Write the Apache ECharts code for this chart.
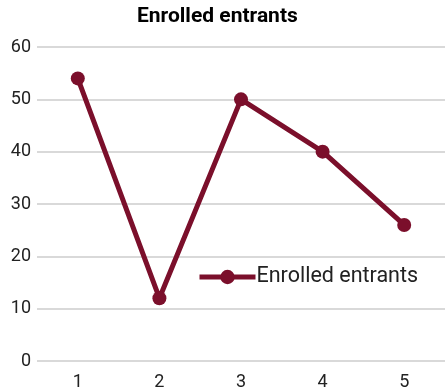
<!DOCTYPE html>
<html><head><meta charset="utf-8">
<script src="https://cdn.jsdelivr.net/npm/echarts@6/dist/echarts.min.js"></script>
<style>html,body{margin:0;padding:0;background:#fff}#c{width:445px;height:391px}</style>
</head><body><div id="c"></div>
<script>
const categories = ['1','2','3','4','5'];
const values = [54, 12, 50, 40, 26];
const seriesName = 'Enrolled entrants';
const color = '#7b0f2b';
const chart = echarts.init(document.getElementById('c'));
chart.setOption({
  animation: false,
  textStyle: { fontFamily: 'Roboto' },
  title: { text: 'Enrolled entrants', left: 137, top: 6, padding: 0,
    textStyle: { fontFamily: 'Roboto', fontWeight: 'bold', fontSize: 21, color: '#000' } },
  legend: { left: 197, top: 266, padding: 0, itemWidth: 56, itemHeight: 18, itemGap: 0,
    lineStyle: { width: 5 },
    textStyle: { fontFamily: 'Roboto', fontSize: 21.5, color: '#222', padding: [0,0,0,-4] },
    data: [seriesName] },
  grid: { left: 37, right: 0, top: 47, bottom: 30 },
  xAxis: { type: 'category', data: categories,
    axisLine: { show: false }, axisTick: { show: false },
    axisLabel: { fontSize: 18, color: '#222', margin: 12, fontFamily: 'Roboto' } },
  yAxis: { type: 'value', min: 0, max: 60, interval: 10,
    axisLabel: { fontSize: 18, color: '#222', margin: 6, fontFamily: 'Roboto', align: 'right' },
    splitLine: { lineStyle: { color: '#d9d9d9', width: 2 } } },
  series: [{ name: seriesName, type: 'line', data: values, symbol: 'circle', symbolSize: 14,
    itemStyle: { color: color }, lineStyle: { color: color, width: 5 } }]
});
</script></body></html>
